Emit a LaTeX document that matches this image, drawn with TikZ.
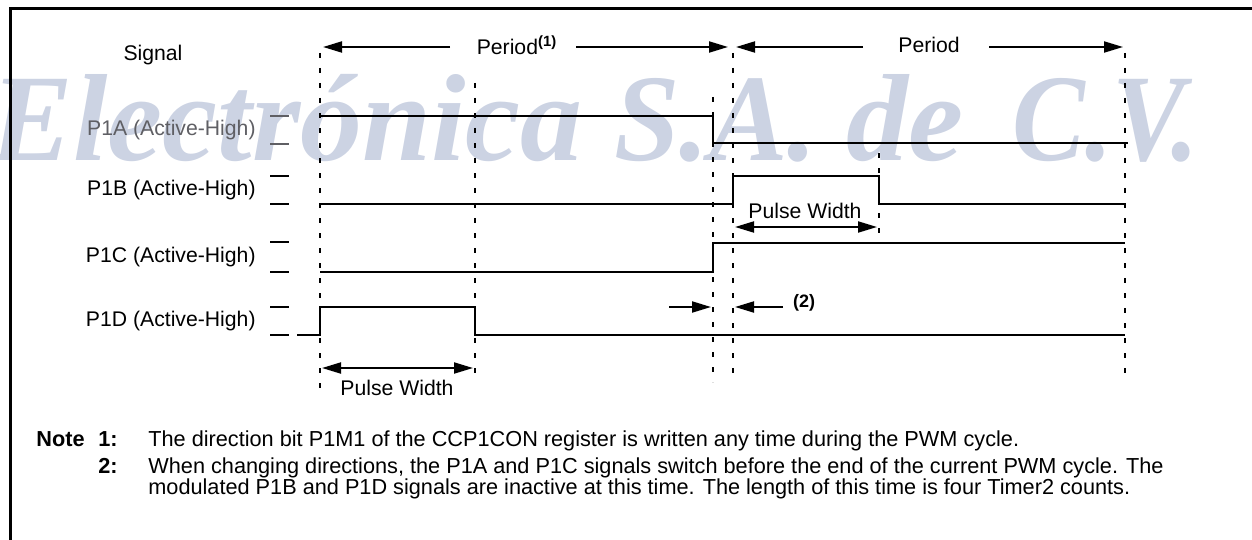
\documentclass[tikz,border=0pt]{standalone}
\usepackage{graphicx}
\usepackage{fontspec}
\setmainfont{Liberation Sans}
\newfontfamily\wmfont{Liberation Serif}
\usetikzlibrary{arrows.meta}
\definecolor{wm}{RGB}{204,211,227}
\definecolor{lblgray}{RGB}{95,95,100}
\begin{document}
\begin{tikzpicture}[x=0.5pt,y=-0.5pt,
  wave/.style={line width=1pt, line join=miter},
  guide/.style={line width=1pt, dash pattern=on 2.5pt off 5pt},
  tickmark/.style={line width=1pt},
  tip/.style={line width=1pt, -{Triangle[length=9.5pt,width=5.5pt]}},
  tipboth/.style={line width=1pt, {Triangle[length=9.5pt,width=5.5pt]}-{Triangle[length=9.5pt,width=5.5pt]}},
  lbl/.style={font=\fontsize{10.6}{12}\selectfont, inner sep=0pt},
  notetext/.style={font=\fontsize{10.85}{12}\selectfont, inner sep=0pt},
  notehead/.style={font=\fontsize{10.85}{12}\selectfont\bfseries, inner sep=0pt},
  small/.style={font=\fontsize{9}{10}\selectfont\bfseries, inner sep=0pt},
  wmtext/.style={anchor=base west, inner sep=0pt, text=wm,
      font=\wmfont\fontsize{62}{62}\selectfont\bfseries\itshape},
  frame/.style={line width=1.5pt}
]
\useasboundingbox (0,0) rectangle (1252,540);

% watermark
\node[wmtext] (wm1) at (-10,160) {Electrónica};
\node[wmtext] (wm2) at (614,160) {\scalebox{0.95}[1]{S.A.}};
\node[wmtext] (wm3) at (846,160) {de};
\node[wmtext] (wm4) at (1012,160) {\scalebox{0.88}[1]{C.V.}};

% frame
\draw[frame] (10,545) -- (10,9) -- (1260,9);

% labels
\node[lbl] (sig) at (153,55) {Signal};
\node[lbl, anchor=east, text=lblgray] (la) at (256,130) {P1A (Active-High)};
\node[lbl, anchor=east] (lb) at (256,190) {P1B (Active-High)};
\node[lbl, anchor=east] (lc) at (256,257) {P1C (Active-High)};
\node[lbl, anchor=east] (ld) at (256,321) {P1D (Active-High)};

% ticks
\draw[tickmark, draw=lblgray] (270,116) -- (289,116) (270,144) -- (289,144);
\draw[tickmark] (270,176) -- (289,176) (270,204) -- (289,204);
\draw[tickmark] (270,242) -- (289,242) (270,272) -- (289,272);
\draw[tickmark] (270,307) -- (289,307) (270,335) -- (289,335);

% guides
\draw[guide] (320,53) -- (320,390);
\draw[guide] (475,83) -- (475,380);
\draw[guide] (713,97) -- (713,382);
\draw[guide] (733,53) -- (733,382);
\draw[guide] (879,153) -- (879,235);
\draw[guide] (1125,53) -- (1125,376);

% waveforms
\draw[wave] (320,116) -- (713,116) -- (713,143) -- (1128,143);
\draw[wave] (320,204) -- (733,204) -- (733,176) -- (879,176) -- (879,204) -- (1125,204);
\draw[wave] (320,272) -- (713,272) -- (713,243) -- (1125,243);
\draw[wave] (297,335) -- (320,335) -- (320,307) -- (475,307) -- (475,335) -- (1125,335);

% period 1
\node[lbl] (per1) at (517,45) {Period\textsuperscript{\bfseries (1)}};
\coordinate (p1l) at (323,47);
\coordinate (p1r) at (728,47);
\draw[tip] (450,47) coordinate (p1a) -- (p1l);
\draw[tip] (576,47) coordinate (p1b) -- (p1r);

% period 2
\node[lbl] (per2) at (929,45) {Period};
\coordinate (p2l) at (736,47);
\coordinate (p2r) at (1123,47);
\draw[tip] (863,47) coordinate (p2a) -- (p2l);
\draw[tip] (989,47) coordinate (p2b) -- (p2r);

% pulse widths
\coordinate (pw1l) at (322,368);
\coordinate (pw1r) at (473,368);
\draw[tipboth] (pw1l) -- (pw1r);
\node[lbl] (pw1t) at (397,388) {Pulse Width};

\coordinate (pw2l) at (735,227);
\coordinate (pw2r) at (877,227);
\draw[tipboth] (pw2l) -- (pw2r);
\node[lbl] (pw2t) at (805,211) {Pulse Width};

% (2) markers
\coordinate (d2a) at (669,307);
\coordinate (d2b) at (711,307);
\coordinate (d2c) at (783,307);
\coordinate (d2d) at (735,307);
\draw[tip] (d2a) -- (d2b);
\draw[tip] (d2c) -- (d2d);
\node[small] (n2) at (804,303) {(2)};

% notes
\node[notehead, anchor=base west] (nt) at (36,446) {Note};
\node[notehead, anchor=base east] (n1) at (118,446) {1:};
\node[notehead, anchor=base east] (nn2) at (118,473) {2:};
\node[notetext, anchor=base west] (t1) at (148,446) {The direction bit P1M1 of the CCP1CON register is written any time during the PWM cycle.};
\node[notetext, anchor=base west] (t2) at (148,473) {When changing directions, the P1A and P1C signals switch before the end of the current PWM cycle. The};
\node[notetext, anchor=base west] (t3) at (148,494) {modulated P1B and P1D signals are inactive at this time. The length of this time is four Timer2 counts.};
\end{tikzpicture}
\end{document}
